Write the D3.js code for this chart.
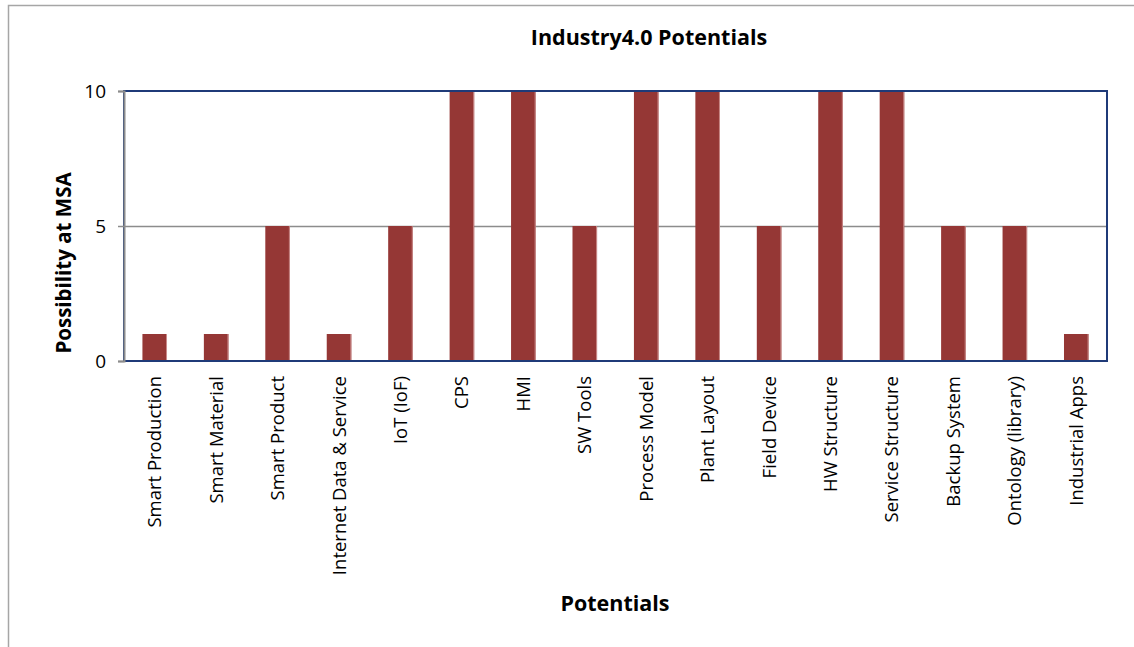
<!DOCTYPE html>
<html>
<head>
<meta charset="utf-8">
<script src="https://cdn.jsdelivr.net/npm/d3@7"></script>
<style>
  html, body { margin: 0; padding: 0; background: #fff; }
  svg { display: block; }
  text { font-family: "Open Sans", "Noto Sans", sans-serif; fill: #000; }
</style>
</head>
<body>
<svg id="chart" width="1134" height="647"></svg>
<script>
const categories = ["Smart Production", "Smart Material", "Smart Product", "Internet Data & Service",
  "IoT (IoF)", "CPS", "HMI", "SW Tools", "Process Model", "Plant Layout", "Field Device",
  "HW Structure", "Service Structure", "Backup System", "Ontology (library)", "Industrial Apps"];
const values = [1, 1, 5, 1, 5, 10, 10, 5, 10, 10, 5, 10, 10, 5, 5, 1];
const yTicks = [0, 5, 10];
const title = "Industry4.0 Potentials";
const xTitle = "Potentials";
const yTitle = "Possibility at MSA";

const svg = d3.select("#chart");
const plot = { left: 124, top: 91, right: 1107, bottom: 361 };

// outer chart frame (top + left visible)
svg.append("path")
  .attr("d", "M8.5,647 L8.5,5.5 L1134,5.5")
  .attr("fill", "none").attr("stroke", "#a6a6a6").attr("stroke-width", 1.5);

const x = d3.scaleBand().domain(categories).range([plot.left, plot.right]).paddingInner(0.6).paddingOuter(0.3);
const y = d3.scaleLinear().domain([0, 10]).range([plot.bottom, plot.top]);

// gridlines
svg.append("g").selectAll("line").data(yTicks.filter(d => d > 0 && d < 10)).join("line")
  .attr("x1", plot.left).attr("x2", plot.right)
  .attr("y1", d => y(d) + 0.5).attr("y2", d => y(d) + 0.5)
  .attr("stroke", "#8c8c8c").attr("stroke-width", 1.5);

// bars
svg.append("g").selectAll("rect").data(values).join("rect")
  .attr("x", (d, i) => x(categories[i]))
  .attr("y", d => y(d))
  .attr("width", x.bandwidth())
  .attr("height", d => y(0) - y(d))
  .attr("fill", "#953735");
svg.append("g").selectAll("line").data(values).join("line")
  .attr("x1", (d, i) => x(categories[i]) + x.bandwidth() - 0.5)
  .attr("x2", (d, i) => x(categories[i]) + x.bandwidth() - 0.5)
  .attr("y1", d => y(d)).attr("y2", y(0))
  .attr("stroke", "#c98a89").attr("stroke-width", 1);

// plot area border
svg.append("rect")
  .attr("x", plot.left).attr("y", plot.top)
  .attr("width", plot.right - plot.left).attr("height", plot.bottom - plot.top)
  .attr("fill", "none").attr("stroke", "#1f3a78").attr("stroke-width", 2);

// y axis
const yAxis = svg.append("g").attr("transform", `translate(${plot.left},0)`)
  .call(d3.axisLeft(y).tickValues(yTicks).tickSize(6).tickPadding(12).tickFormat(d3.format("d")));
yAxis.select(".domain").attr("stroke", "#8c8c8c").attr("stroke-width", 2);
yAxis.selectAll(".tick line").attr("stroke", "#8c8c8c").attr("stroke-width", 1.5);
yAxis.selectAll(".tick text").style("font-size", "19px").style("font-family", "'Open Sans', sans-serif").attr("fill", "#000");

// x axis labels
const xAxis = svg.append("g").attr("transform", `translate(0,${plot.bottom})`)
  .call(d3.axisBottom(x).tickSize(0).tickPadding(0));
xAxis.select(".domain").remove();
xAxis.selectAll(".tick text")
  .style("font-size", "18.5px").style("font-family", "'Open Sans', sans-serif").attr("fill", "#000")
  .attr("text-anchor", "end")
  .attr("transform", "rotate(-90)")
  .attr("x", -15).attr("y", 0).attr("dy", "0.35em");

// titles
svg.append("text").attr("x", 649).attr("y", 45).attr("text-anchor", "middle")
  .style("font-size", "21.5px").style("font-weight", "bold").text(title);
svg.append("text").attr("x", 615).attr("y", 611).attr("text-anchor", "middle")
  .style("font-size", "21.5px").style("font-weight", "bold").text(xTitle);
svg.append("text").attr("transform", "translate(71,263) rotate(-90)").attr("text-anchor", "middle")
  .style("font-size", "20.5px").style("font-weight", "bold").text(yTitle);
</script>
</body>
</html>
